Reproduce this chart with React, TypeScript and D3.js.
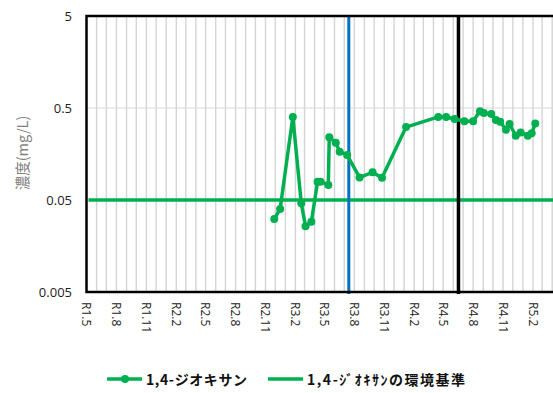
import React from "react";
import * as d3 from "d3";

// sampling dates and 1,4-dioxane concentration (mg/L)
const sampleDates = [
	"2020-11-28", "2020-12-16", "2021-01-24", "2021-02-19", "2021-03-04",
	"2021-03-22", "2021-04-10", "2021-04-19", "2021-05-13", "2021-05-16",
	"2021-06-05", "2021-06-17", "2021-07-10", "2021-08-17", "2021-09-26",
	"2021-10-25", "2022-01-07", "2022-04-16", "2022-05-10", "2022-06-05",
	"2022-07-05", "2022-08-01", "2022-08-22", "2022-09-03", "2022-09-26",
	"2022-10-10", "2022-10-23", "2022-11-10", "2022-11-21", "2022-12-10",
	"2022-12-25", "2023-01-16", "2023-01-28", "2023-02-08",
];
const dioxane = [
	0.031, 0.04, 0.4, 0.046, 0.026,
	0.029, 0.079, 0.079, 0.073, 0.24,
	0.21, 0.167, 0.154, 0.088, 0.1,
	0.087, 0.31, 0.4, 0.4, 0.38,
	0.36, 0.36, 0.46, 0.44, 0.43,
	0.37, 0.355, 0.29, 0.335, 0.25,
	0.27, 0.25, 0.265, 0.34,
];
const standard = 0.05;
const yTicks = [5, 0.5, 0.05, 0.005];
const xTickLabels = [
	"R1.5", "R1.8", "R1.11", "R2.2", "R2.5", "R2.8", "R2.11", "R3.2",
	"R3.5", "R3.8", "R3.11", "R4.2", "R4.5", "R4.8", "R4.11", "R5.2",
];
const blueLineDate = "2021-07-15";
const blackLineDate = "2022-06-17";

const green = "#00b050";
const jpFont = "'Noto Sans CJK JP', 'Noto Sans', sans-serif";

const parse = (s: string) => {
	const [y, m, d] = s.split("-").map(Number);
	return new Date(y, m - 1, d);
};
const labelDate = (l: string) => {
	const [r, m] = l.slice(1).split(".").map(Number);
	return new Date(2018 + r, m - 1, 1);
};

export default function App() {
	const width = 553;
	const height = 393;
	const top = 16;
	const bottom = 292;
	const left = 86.5;

	const x = d3
		.scaleTime()
		.domain([new Date(2019, 4, 1), new Date(2023, 1, 1)])
		.range([left, 533]);
	const y = d3.scaleLog().domain([0.005, 5]).range([bottom, top]);
	const right = x(new Date(2023, 4, 1));

	const months = d3.timeMonth.range(new Date(2019, 5, 1), new Date(2023, 4, 1));
	const points = sampleDates.map((d, i) => ({ date: parse(d), value: dioxane[i] }));
	const line = d3
		.line<{ date: Date; value: number }>()
		.x((d) => x(d.date))
		.y((d) => y(d.value));

	return (
		<svg
			width={width}
			height={height}
			style={{ position: "absolute", left: 0, top: 0, background: "#fff" }}
		>
			{/* grid */}
			{months.map((m, i) => (
				<line
					key={i}
					x1={x(m)}
					x2={x(m)}
					y1={top}
					y2={bottom}
					stroke="#d4d4d4"
					strokeWidth={1.4}
				/>
			))}
			<line x1={left} x2={right} y1={y(0.5)} y2={y(0.5)} stroke="#d9d9d9" strokeWidth={1.2} />

			{/* environmental standard */}
			<line
				x1={left + 2}
				x2={right}
				y1={y(standard)}
				y2={y(standard)}
				stroke={green}
				strokeWidth={3.5}
			/>

			{/* reference lines */}
			<line
				x1={x(parse(blueLineDate))}
				x2={x(parse(blueLineDate))}
				y1={top}
				y2={bottom + 2}
				stroke="#0070c0"
				strokeWidth={3}
			/>
			<line
				x1={x(parse(blackLineDate))}
				x2={x(parse(blackLineDate))}
				y1={top}
				y2={bottom + 2}
				stroke="#000"
				strokeWidth={3.5}
			/>

			{/* frame */}
			<rect
				x={left}
				y={top}
				width={right - left}
				height={bottom - top}
				fill="none"
				stroke="#000"
				strokeWidth={2.5}
			/>

			{/* series */}
			<path d={line(points) || ""} fill="none" stroke={green} strokeWidth={3.5} strokeLinejoin="round" />
			{points.map((p, i) => (
				<circle key={i} cx={x(p.date)} cy={y(p.value)} r={4} fill={green} />
			))}

			{/* y axis */}
			{yTicks.map((t) => (
				<text
					key={t}
					x={72}
					y={y(t)}
					dy="0.35em"
					textAnchor="end"
					fontFamily="'Open Sans', sans-serif"
					fontSize={13}
					fill="#222"
				>
					{t}
				</text>
			))}
			<text
				transform={`translate(21,${(top + bottom) / 2 - 1}) rotate(-90)`}
				textAnchor="middle"
				dominantBaseline="central"
				fontFamily={jpFont}
				fontSize={14.5}
				fill="#7f7f7f"
			>
				濃度(mg/L)
			</text>

			{/* x axis */}
			{xTickLabels.map((l) => (
				<text
					key={l}
					transform={`translate(${x(labelDate(l))},${bottom + 10}) rotate(90)`}
					dominantBaseline="central"
					fontFamily="'Open Sans', sans-serif"
					fontSize={12}
					fill="#222"
				>
					{l}
				</text>
			))}

			{/* legend */}
			<g fontFamily={jpFont} fontSize={14} fontWeight="bold" fill="#111">
				<line x1={107} x2={142} y1={379} y2={379} stroke={green} strokeWidth={3.5} />
				<circle cx={125} cy={379} r={4} fill={green} />
				<text x={146} y={379} dominantBaseline="central" textLength={101} lengthAdjust="spacing">
					1,4-ジオキサン
				</text>
				<line x1={268} x2={303} y1={379} y2={379} stroke={green} strokeWidth={3.5} />
				<text x={307} y={379} dominantBaseline="central" textLength={158} lengthAdjust="spacing">
					1,4-ｼﾞｵｷｻﾝの環境基準
				</text>
			</g>
		</svg>
	);
}
